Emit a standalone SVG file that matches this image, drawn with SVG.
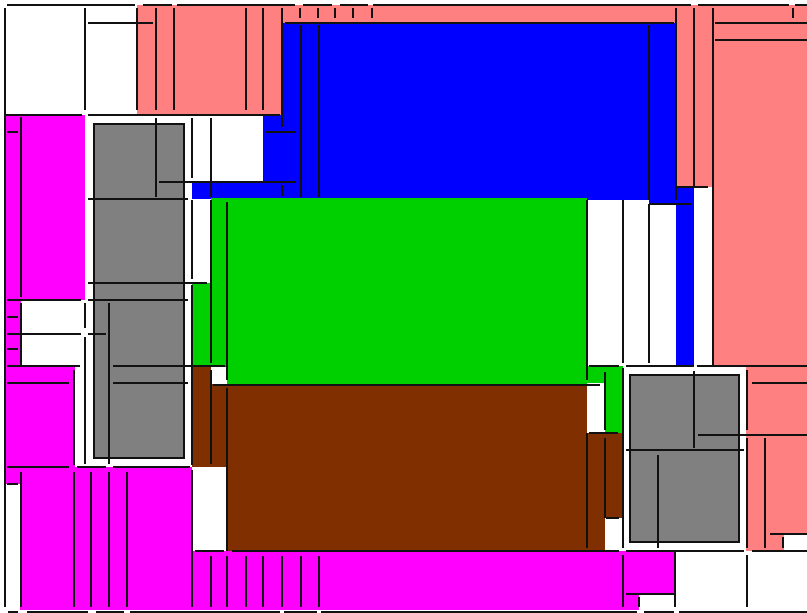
<svg xmlns="http://www.w3.org/2000/svg" width="807" height="613" viewBox="0 0 807 613">
<style>
.s{fill:#ff8080}.b{fill:#0000ff}.g{fill:#00d000}.r{fill:#803000}.m{fill:#ff00ff}.w{fill:#ffffff}
.gr{fill:#808080;stroke:#111;stroke-width:2}
.ln{fill:none;stroke:#111;stroke-width:2}
</style>
<rect x="0" y="0" width="807" height="613" fill="#ffffff"/>
<g id="fills">
<rect class="s" x="137" y="5" width="539" height="18"/>
<rect class="s" x="137" y="5" width="145" height="110"/>
<rect class="s" x="676" y="5" width="131" height="182"/>
<rect class="s" x="713" y="5" width="94" height="361"/>
<rect class="s" x="746" y="366" width="61" height="185"/>
<rect class="w" x="784" y="535" width="23" height="16"/>
<rect class="b" x="282" y="23" width="394" height="177"/>
<rect class="b" x="263" y="115" width="19" height="85"/>
<rect class="b" x="192" y="182" width="90" height="17"/>
<rect class="b" x="649" y="199" width="45" height="5"/>
<rect class="b" x="676" y="187" width="18" height="179"/>
<rect class="g" x="211" y="198" width="376" height="187"/>
<rect class="g" x="192" y="283" width="19" height="83"/>
<rect class="g" x="587" y="366" width="36" height="17"/>
<rect class="g" x="605" y="383" width="18" height="50"/>
<rect class="r" x="192" y="366" width="35" height="101"/>
<rect class="w" x="211" y="367" width="16" height="17"/>
<rect class="r" x="227" y="385" width="360" height="166"/>
<rect class="r" x="587" y="433" width="36" height="118"/>
<rect class="w" x="605" y="518" width="18" height="33"/>
<rect class="m" x="5" y="115" width="80" height="185"/>
<rect class="m" x="5" y="300" width="16" height="66"/>
<rect class="m" x="5" y="366" width="70" height="101"/>
<rect class="m" x="5" y="467" width="187" height="143"/>
<rect class="w" x="5" y="484" width="15" height="126"/>
<rect class="m" x="192" y="551" width="483" height="43"/>
<rect class="m" x="192" y="594" width="447" height="16"/>
</g>
<g id="gray-left"><rect class="gr" x="94" y="124" width="90" height="334"/></g>
<g id="gray-right"><rect class="gr" x="630" y="375" width="109" height="167"/></g>
<g id="lines">
<path class="ln" d="M7 5H135M143 5H172M177 5H295M303 5H332M340 5H368M373 5H691M698 5H789M795 5H807
M88 23H153M285 23H674M715 23H807M715 40H807
M5 115H82M88 115H280M7 132H18M266 132H296M159 182H296M677 187H708M88 199H188M650 204H691
M88 283H207M7 300H81M88 300H188M7 317H18M7 334H81M88 334H106M7 349H18
M7 366H80M113 366H225M589 366H619M626 366H694M697 366H807
M7 383H69M113 383H188M752 383H807M213 385H600M589 433H618M698 435H807M626 450H744
M7 467H69M77 467H106M113 467H190M7 484H18M606 518H619M770 534H807
M195 551H224M232 551H619M626 551H744M752 551H807M626 594H674
M8 612H18M27 612H88M96 612H124M130 612H280M284 612H317M321 612H637M644 612H674M679 612H807"/>
<path class="ln" d="M5 8V607
M21 117V297M21 303V365M21 472V607
M74 370V465M74 472V607
M85 8V110M85 303V328M85 337V464
M91 472V607M109 303V464M109 472V607M127 472V607
M137 8V110M156 8V110M156 118V197M174 8V110
M192 118V178M192 200V279M192 285V465M192 470V607
M211 118V197M211 200V363M211 370V464M211 556V607
M227 202V380M227 388V551M227 556V607
M246 8V110M246 556V607M263 8V110M263 556V607
M282 8V127M282 185V196M282 556V607
M300 8V18M318 8V18M335 8V18M353 8V18M372 8V18
M301 25V197M301 556V607M319 25V197M319 556V607
M587 200V380M587 433V548
M605 372V430M605 438V518
M623 200V363M623 368V548M623 555V607
M639 597V607M649 25V200M649 204V363M658 455V548M675 551V607
M676 8V200M694 8V187M694 371V448M713 8V366
M747 370V430M747 438V548M747 555V607
M765 438V548M783 537V548M793 8V18"/>
</g>
</svg>
